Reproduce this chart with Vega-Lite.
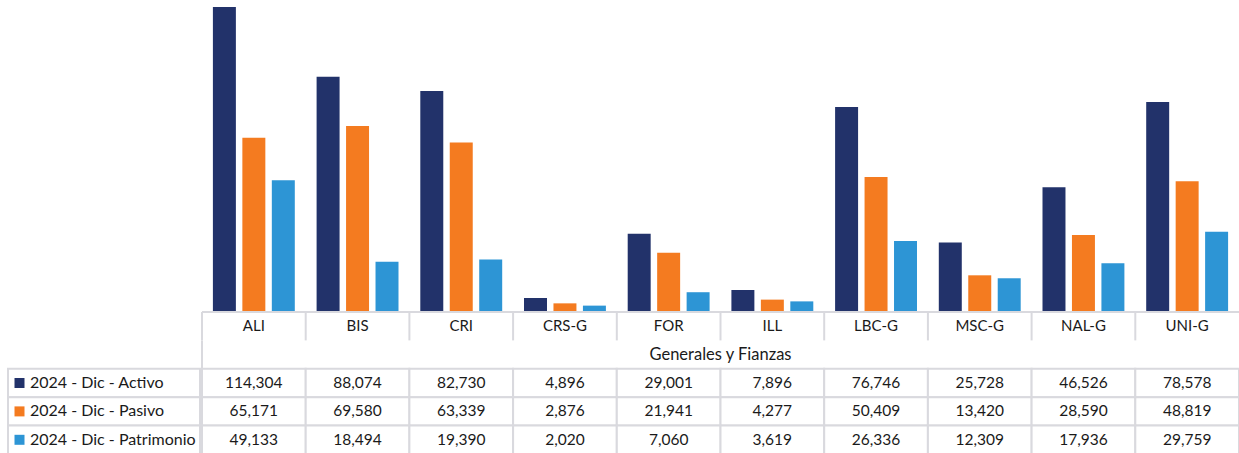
{
  "$schema": "https://vega.github.io/schema/vega-lite/v6.json",
  "padding": {"left": 7, "top": 0, "right": 0, "bottom": 0},
  "config": {"view": {"stroke": null}, "font": "Lato", "text": {"font": "Lato", "fontSize": 15, "color": "#1a1a1a"}},
  "datasets": {
    "v": [
      {"cat": "ALI", "serie": "2024 - Dic - Activo", "value": 114304},
      {"cat": "BIS", "serie": "2024 - Dic - Activo", "value": 88074},
      {"cat": "CRI", "serie": "2024 - Dic - Activo", "value": 82730},
      {"cat": "CRS-G", "serie": "2024 - Dic - Activo", "value": 4896},
      {"cat": "FOR", "serie": "2024 - Dic - Activo", "value": 29001},
      {"cat": "ILL", "serie": "2024 - Dic - Activo", "value": 7896},
      {"cat": "LBC-G", "serie": "2024 - Dic - Activo", "value": 76746},
      {"cat": "MSC-G", "serie": "2024 - Dic - Activo", "value": 25728},
      {"cat": "NAL-G", "serie": "2024 - Dic - Activo", "value": 46526},
      {"cat": "UNI-G", "serie": "2024 - Dic - Activo", "value": 78578},
      {"cat": "ALI", "serie": "2024 - Dic - Pasivo", "value": 65171},
      {"cat": "BIS", "serie": "2024 - Dic - Pasivo", "value": 69580},
      {"cat": "CRI", "serie": "2024 - Dic - Pasivo", "value": 63339},
      {"cat": "CRS-G", "serie": "2024 - Dic - Pasivo", "value": 2876},
      {"cat": "FOR", "serie": "2024 - Dic - Pasivo", "value": 21941},
      {"cat": "ILL", "serie": "2024 - Dic - Pasivo", "value": 4277},
      {"cat": "LBC-G", "serie": "2024 - Dic - Pasivo", "value": 50409},
      {"cat": "MSC-G", "serie": "2024 - Dic - Pasivo", "value": 13420},
      {"cat": "NAL-G", "serie": "2024 - Dic - Pasivo", "value": 28590},
      {"cat": "UNI-G", "serie": "2024 - Dic - Pasivo", "value": 48819},
      {"cat": "ALI", "serie": "2024 - Dic - Patrimonio", "value": 49133},
      {"cat": "BIS", "serie": "2024 - Dic - Patrimonio", "value": 18494},
      {"cat": "CRI", "serie": "2024 - Dic - Patrimonio", "value": 19390},
      {"cat": "CRS-G", "serie": "2024 - Dic - Patrimonio", "value": 2020},
      {"cat": "FOR", "serie": "2024 - Dic - Patrimonio", "value": 7060},
      {"cat": "ILL", "serie": "2024 - Dic - Patrimonio", "value": 3619},
      {"cat": "LBC-G", "serie": "2024 - Dic - Patrimonio", "value": 26336},
      {"cat": "MSC-G", "serie": "2024 - Dic - Patrimonio", "value": 12309},
      {"cat": "NAL-G", "serie": "2024 - Dic - Patrimonio", "value": 17936},
      {"cat": "UNI-G", "serie": "2024 - Dic - Patrimonio", "value": 29759}
    ],
    "cats": [
      {"cat": "ALI"}, {"cat": "BIS"}, {"cat": "CRI"}, {"cat": "CRS-G"}, {"cat": "FOR"},
      {"cat": "ILL"}, {"cat": "LBC-G"}, {"cat": "MSC-G"}, {"cat": "NAL-G"}, {"cat": "UNI-G"}
    ],
    "series": [
      {"serie": "2024 - Dic - Activo"},
      {"serie": "2024 - Dic - Pasivo"},
      {"serie": "2024 - Dic - Patrimonio"}
    ]
  },
  "columns": 2,
  "spacing": 0,
  "concat": [
    {
      "width": 192, "height": 311,
      "data": {"values": [{}]},
      "mark": {"type": "point", "opacity": 0},
      "encoding": {}
    },
    {
      "width": 1037, "height": 311,
      "data": {"name": "v"},
      "mark": {"type": "bar"},
      "encoding": {
        "x": {"field": "cat", "type": "nominal", "sort": null, "axis": null,
              "scale": {"type": "band", "domain": ["ALI","BIS","CRI","CRS-G","FOR","ILL","LBC-G","MSC-G","NAL-G","UNI-G"], "paddingInner": 0, "paddingOuter": 0}},
        "xOffset": {"field": "serie", "type": "nominal",
              "scale": {"domain": ["2024 - Dic - Activo","2024 - Dic - Pasivo","2024 - Dic - Patrimonio"], "paddingInner": 0.22, "paddingOuter": 0.37}},
        "y": {"field": "value", "type": "quantitative", "axis": null, "scale": {"domain": [0, 116936], "nice": false}},
        "color": {"field": "serie", "type": "nominal", "legend": null,
              "scale": {"domain": ["2024 - Dic - Activo","2024 - Dic - Pasivo","2024 - Dic - Patrimonio"], "range": ["#22326A", "#F47B20", "#2D95D5"]}}
      }
    },
    {
      "width": 192, "height": 142,
      "data": {"name": "series"},
      "encoding": {
        "y": {"field": "serie", "type": "nominal", "axis": null,
              "scale": {"type": "band", "domain": ["h","g","2024 - Dic - Activo","2024 - Dic - Pasivo","2024 - Dic - Patrimonio"], "paddingInner": 0, "paddingOuter": 0}}
      },
      "layer": [
        {"mark": {"type": "rect", "fill": "#ffffff", "stroke": "#d9d9de", "strokeWidth": 2}},
        {"mark": {"type": "point", "shape": "square", "filled": true, "size": 100, "opacity": 1, "xOffset": -84.5},
         "encoding": {"color": {"field": "serie", "type": "nominal", "legend": null,
              "scale": {"domain": ["2024 - Dic - Activo","2024 - Dic - Pasivo","2024 - Dic - Patrimonio"], "range": ["#22326A", "#F47B20", "#2D95D5"]}}}},
        {"mark": {"type": "text", "align": "left", "dx": -74, "fontSize": 16},
         "encoding": {"text": {"field": "serie"}}}
      ]
    },
    {
      "width": 1037, "height": 142,
      "layer": [
        {
          "data": {"name": "v"},
          "mark": {"type": "rect", "fill": "#ffffff", "stroke": "#d9d9de", "strokeWidth": 2},
          "encoding": {
            "x": {"field": "cat", "type": "nominal", "axis": null,
                  "scale": {"type": "band", "domain": ["ALI","BIS","CRI","CRS-G","FOR","ILL","LBC-G","MSC-G","NAL-G","UNI-G"], "paddingInner": 0, "paddingOuter": 0}},
            "y": {"field": "serie", "type": "nominal", "axis": null,
                  "scale": {"type": "band", "domain": ["h","g","2024 - Dic - Activo","2024 - Dic - Pasivo","2024 - Dic - Patrimonio"], "paddingInner": 0, "paddingOuter": 0}}
          }
        },
        {
          "data": {"name": "v"},
          "mark": {"type": "text", "fontSize": 15.5},
          "encoding": {
            "x": {"field": "cat", "type": "nominal"},
            "y": {"field": "serie", "type": "nominal"},
            "text": {"field": "value", "type": "quantitative", "format": ",d"}
          }
        },
        {
          "data": {"name": "cats"},
          "mark": {"type": "text", "fontSize": 15},
          "encoding": {
            "x": {"field": "cat", "type": "nominal"},
            "y": {"datum": "h"},
            "text": {"field": "cat"}
          }
        },
        {
          "data": {"name": "cats"},
          "mark": {"type": "tick", "orient": "vertical", "size": 28.4, "thickness": 2, "color": "#d9d9de", "opacity": 1},
          "encoding": {
            "x": {"field": "cat", "type": "nominal", "bandPosition": 0},
            "y": {"datum": "h"}
          }
        },
        {
          "data": {"values": [{}]},
          "mark": {"type": "rule", "color": "#d9d9de", "strokeWidth": 2},
          "encoding": {"y": {"datum": "h", "bandPosition": 0}}
        },
        {
          "data": {"values": [{}]},
          "mark": {"type": "tick", "orient": "vertical", "size": 28.4, "thickness": 2, "color": "#d9d9de", "opacity": 1},
          "encoding": {
            "x": {"datum": "ALI", "bandPosition": 0},
            "y": {"datum": "g"}
          }
        },
        {
          "data": {"values": [{}]},
          "mark": {"type": "text", "fontSize": 16.5, "text": "Generales y Fianzas"},
          "encoding": {"y": {"datum": "g"}}
        }
      ]
    }
  ]
}
